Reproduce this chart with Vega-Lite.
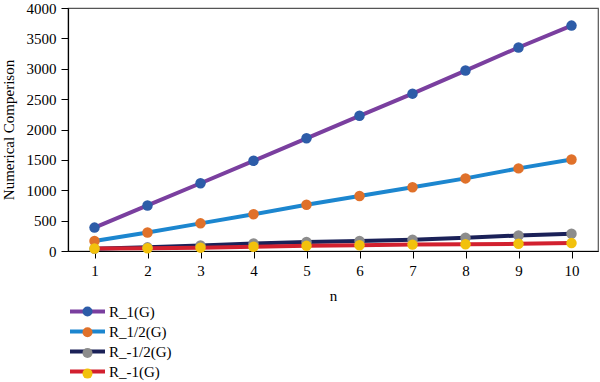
{
  "$schema": "https://vega.github.io/schema/vega-lite/v6.json",
  "autosize": "none",
  "width": 530,
  "height": 243,
  "padding": {"left": 68, "top": 8, "right": 2, "bottom": 131},
  "background": "white",
  "config": {
    "font": "Liberation Serif",
    "view": {"stroke": "#555555", "strokeWidth": 1.2},
    "axis": {"grid": false, "domainColor": "#000000", "tickColor": "#000000", "labelColor": "#000000", "titleColor": "#000000", "labelFont": "Liberation Serif", "titleFont": "Liberation Serif", "labelFontSize": 15, "titleFontSize": 15, "titleFontWeight": "normal", "tickSize": 7, "domainWidth": 1.2}
  },
  "data": {"values": [
    {"n": 1, "series": "R_1(G)", "value": 385},
    {"n": 2, "series": "R_1(G)", "value": 750},
    {"n": 3, "series": "R_1(G)", "value": 1115},
    {"n": 4, "series": "R_1(G)", "value": 1485},
    {"n": 5, "series": "R_1(G)", "value": 1855},
    {"n": 6, "series": "R_1(G)", "value": 2225},
    {"n": 7, "series": "R_1(G)", "value": 2590},
    {"n": 8, "series": "R_1(G)", "value": 2970},
    {"n": 9, "series": "R_1(G)", "value": 3350},
    {"n": 10, "series": "R_1(G)", "value": 3710},
    {"n": 1, "series": "R_1/2(G)", "value": 165},
    {"n": 2, "series": "R_1/2(G)", "value": 305},
    {"n": 3, "series": "R_1/2(G)", "value": 455},
    {"n": 4, "series": "R_1/2(G)", "value": 605},
    {"n": 5, "series": "R_1/2(G)", "value": 760},
    {"n": 6, "series": "R_1/2(G)", "value": 905},
    {"n": 7, "series": "R_1/2(G)", "value": 1050},
    {"n": 8, "series": "R_1/2(G)", "value": 1195},
    {"n": 9, "series": "R_1/2(G)", "value": 1360},
    {"n": 10, "series": "R_1/2(G)", "value": 1505},
    {"n": 1, "series": "R_-1/2(G)", "value": 35},
    {"n": 2, "series": "R_-1/2(G)", "value": 60},
    {"n": 3, "series": "R_-1/2(G)", "value": 90},
    {"n": 4, "series": "R_-1/2(G)", "value": 125},
    {"n": 5, "series": "R_-1/2(G)", "value": 150},
    {"n": 6, "series": "R_-1/2(G)", "value": 165},
    {"n": 7, "series": "R_-1/2(G)", "value": 185},
    {"n": 8, "series": "R_-1/2(G)", "value": 220},
    {"n": 9, "series": "R_-1/2(G)", "value": 255},
    {"n": 10, "series": "R_-1/2(G)", "value": 285},
    {"n": 1, "series": "R_-1(G)", "value": 40},
    {"n": 2, "series": "R_-1(G)", "value": 45},
    {"n": 3, "series": "R_-1(G)", "value": 55},
    {"n": 4, "series": "R_-1(G)", "value": 70},
    {"n": 5, "series": "R_-1(G)", "value": 85},
    {"n": 6, "series": "R_-1(G)", "value": 95},
    {"n": 7, "series": "R_-1(G)", "value": 105},
    {"n": 8, "series": "R_-1(G)", "value": 110},
    {"n": 9, "series": "R_-1(G)", "value": 118},
    {"n": 10, "series": "R_-1(G)", "value": 130}
  ]},
  "encoding": {
    "x": {"field": "n", "type": "quantitative", "title": "n",
      "scale": {"domain": [0.5, 10.5], "nice": false, "zero": false},
      "axis": {"values": [1,2,3,4,5,6,7,8,9,10], "labelPadding": 5, "titlePadding": 10}},
    "y": {"field": "value", "type": "quantitative", "title": "Numerical Comperison",
      "scale": {"domain": [0, 4000], "nice": false},
      "axis": {"values": [0,500,1000,1500,2000,2500,3000,3500,4000], "format": "d", "labelPadding": 5, "titlePadding": 10}}
  },
  "layer": [
    {
      "mark": {"type": "line", "strokeWidth": 4},
      "encoding": {
        "color": {"field": "series", "type": "nominal",
          "scale": {"domain": ["R_1(G)", "R_1/2(G)", "R_-1/2(G)", "R_-1(G)"], "range": ["#7a3f9f", "#1c86cf", "#1b2158", "#d2202f"]},
          "legend": {"title": null, "orient": "none", "legendX": 0, "legendY": 296, "padding": 0,
            "symbolType": "M-3.5,0H3.5", "symbolSize": 100, "symbolStrokeWidth": 4, "symbolOffset": 12,
            "labelOffset": 14, "labelFontSize": 15, "labelFont": "Liberation Serif", "labelColor": "#000000", "rowPadding": 3}}
      }
    },
    {
      "mark": {"type": "point", "filled": true, "size": 110, "opacity": 1},
      "encoding": {
        "fill": {"field": "series", "type": "nominal", "sort": null,
          "scale": {"range": ["#2d5ca8", "#e0712a", "#8c8c8c", "#f2c10c"]},
          "legend": {"title": null, "orient": "none", "legendX": 0, "legendY": 296, "padding": 0,
            "symbolType": "circle", "symbolSize": 100, "symbolStrokeWidth": 0, "symbolOffset": 12, "symbolOpacity": 1,
            "labelExpr": "''", "labelOffset": 14, "labelFontSize": 15, "labelFont": "Liberation Serif", "labelColor": "transparent", "rowPadding": 4.7}}
      }
    }
  ]
}
